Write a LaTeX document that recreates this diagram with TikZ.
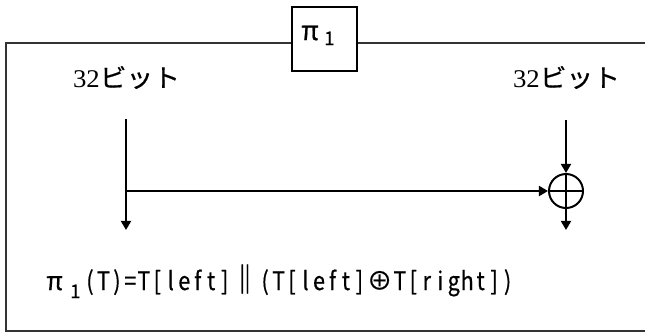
\documentclass[tikz,border=0pt]{standalone}
\usepackage{fontspec}
\setmainfont{Liberation Serif}
\newfontfamily\jpfont[FakeBold=0.6]{Noto Sans CJK JP}
\usetikzlibrary{arrows.meta}
\newcommand\hc[1]{\makebox[10.1pt]{\scalebox{0.85}[1]{#1}}}
\newcommand\fc[1]{\makebox[20.25pt]{#1}}
\begin{document}
\begin{tikzpicture}[x=0.75pt,y=-0.75pt,
  frame/.style={line width=1.8pt, draw=black!80},
  conn/.style={line width=1.5pt, -{Triangle[length=6.8pt,width=7.5pt]}},
  pibox/.style={draw, line width=1.7pt, fill=white, minimum width=48.75pt, minimum height=48pt, inner sep=0pt},
  bits/.style={font=\fontsize{18}{20}\selectfont, inner sep=0pt},
  xorop/.style={circle, draw, line width=1.5pt, minimum size=25.5pt, inner sep=0pt,
    path picture={\draw[line width=1.5pt] (path picture bounding box.west) -- (path picture bounding box.east)
      (path picture bounding box.north) -- (path picture bounding box.south);}}
]
\useasboundingbox (0,0) rectangle (645,333);
% frame
\coordinate (ftr) at (645,43);
\coordinate (ftl) at (6,43);
\coordinate (fbl) at (6,331);
\coordinate (fbr) at (645,331);
\draw[frame] (ftr) -- (ftl) -- (fbl) -- (fbr);
% pi box
\node[pibox] (pi) at (324.5,39) {};
\node[font=\jpfont\fontsize{20}{22}\selectfont, inner sep=0pt, anchor=base west] (pilbl) at (301,40) {π};
\node[font=\jpfont\fontsize{14}{16}\selectfont, inner sep=0pt, anchor=base west] (pisub) at (324,45) {1};
% labels
\node[bits] (lbl) at (126.5,77.5) {\resizebox{80.25pt}{15.75pt}{32{\jpfont ビット}}};
\node[bits] (rbl) at (566.5,77.5) {\resizebox{80.25pt}{15.75pt}{32{\jpfont ビット}}};
% left branch
\coordinate (ltop) at (126,119);
\coordinate (lbot) at (126,230);
\coordinate (lmid) at (126,191);
\draw[conn] (ltop) -- (lbot);
% xor
\node[xorop] (xor) at (566,191) {};
\coordinate (rtop) at (566,120);
\coordinate (rbot) at (566,230);
\draw[conn] (rtop) -- (xor.north);
\draw[conn] (lmid) -- (xor.west);
\draw[conn] (xor.south) -- (rbot);
% formula
\node[font=\jpfont\fontsize{19}{22}\selectfont, inner sep=0pt, anchor=base west] (formula) at (46,290)
  {\makebox[27.75pt][l]{π\hspace{5.5pt}\raisebox{-6pt}{\fontsize{14}{16}\selectfont 1}}%
   \hc{(}\hc{T}\hc{)}\hc{=}\hc{T}\hc{[}\hc{l}\hc{e}\hc{f}\hc{t}\hc{]}%
   \fc{\scalebox{1.3}[1.15]{‖}}%
   \hc{(}\hc{T}\hc{[}\hc{l}\hc{e}\hc{f}\hc{t}\hc{]}%
   \fc{⊕}%
   \hc{T}\hc{[}\hc{r}\hc{i}\hc{g}\hc{h}\hc{t}\hc{]}\hc{)}};
\end{tikzpicture}
\end{document}
